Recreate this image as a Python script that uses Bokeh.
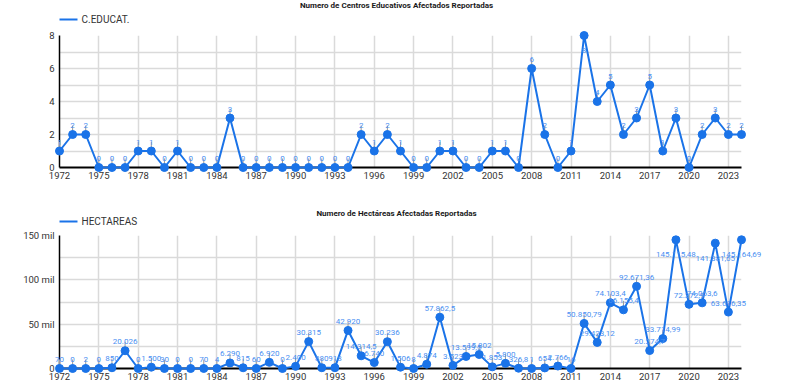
import numpy as np
from bokeh.plotting import figure
from bokeh.layouts import column
from bokeh.models import ColumnDataSource, FixedTicker, Range1d
from bokeh.embed import file_html
from bokeh.resources import INLINE
from bokeh.core.properties import value

# ---------------- data ----------------
years = list(range(1972, 2025))
centros = [1, 2, 2, 0, 0, 0, 1, 1, 0, 1, 0, 0, 0, 3, 0, 0, 0, 0, 0, 0, 0, 0, 0,
           2, 1, 2, 1, 0, 0, 1, 1, 0, 0, 1, 1, 0, 6, 2, 0, 1, 8, 4, 5, 2, 3, 5,
           1, 3, 0, 2, 3, 2, 2]
hectareas = [70, 0, 2, 0, 850, 20026, 0, 1500, 30, 0, 0, 70, 4, 6290, 815, 60,
             6920, 0, 2400, 30315, 880, 918, 42920, 14314.5, 6740, 30236, 1506,
             8, 4874, 57862.5, 3523, 13599.5, 15802, 1853, 5800, 326.8, 1, 654,
             2766, 16, 50850.79, 29423.12, 74103.4, 66155.4, 92671.36, 20274.7,
             33714.99, 145115.48, 72372.9, 74063.6, 141381.65, 63616.35, 145164.69]
x_ticks = list(range(1972, 2025, 3))
centros_ticks = [0, 2, 4, 6, 8]
centros_minor = [1, 3, 5, 7]
hect_ticks = [0, 50000, 100000, 150000]
hect_tick_labels = ["0", "50 mil", "100 mil", "150 mil"]
hect_minor = [25000, 75000, 125000]

title_1 = "Numero de Centros Educativos Afectados Reportadas"
title_2 = "Numero de Hectáreas Afectadas Reportadas"
series_1 = "C.EDUCAT."
series_2 = "HECTAREAS"

LINE = "#1a73e8"
LBL = "#4a8ff2"
GRID = "#dadada"
FONT = "Roboto"
TXT = "#333333"
BORDER_LR = 59
WIDTH = 800
FRAME_W = WIDTH - 2 * BORDER_LR


def fmt_es(v):
    s = f"{v:,.2f}".rstrip("0").rstrip(".")
    return s.replace(",", "X").replace(".", ",").replace("X", ".")


def make(title, name, vals, labels, ymax, yticks, yminor, overrides,
         height, top, bottom, title_gap, legend_gap):
    frame_h = height - top - bottom
    p = figure(width=WIDTH, height=height, output_backend="svg",
               toolbar_location=None, tools="",
               x_range=Range1d(years[0], years[-1]), y_range=Range1d(0, ymax),
               min_border_left=BORDER_LR, min_border_right=BORDER_LR,
               min_border_top=top, min_border_bottom=bottom)
    p.outline_line_color = None
    p.background_fill_color = "white"
    p.border_fill_color = "white"

    # axes
    p.xaxis.ticker = FixedTicker(ticks=x_ticks)
    p.yaxis.ticker = FixedTicker(ticks=yticks, minor_ticks=yminor)
    if overrides:
        p.yaxis.major_label_overrides = overrides
    for ax in (p.xaxis[0], p.yaxis[0]):
        ax.major_tick_out = 0
        ax.major_tick_in = 0
        ax.minor_tick_out = 0
        ax.minor_tick_in = 0
        ax.axis_line_color = "black"
        ax.major_label_text_font = FONT
        ax.major_label_text_font_size = "9.5px"
        ax.major_label_text_color = TXT
    p.xaxis.axis_line_width = 2
    p.yaxis.axis_line_width = 1.5
    p.xaxis.major_label_standoff = 4
    p.yaxis.major_label_standoff = 5

    p.xgrid.grid_line_color = GRID
    p.xgrid.grid_line_width = 1.5
    p.ygrid.grid_line_color = GRID
    p.ygrid.grid_line_width = 1.5
    p.ygrid.minor_grid_line_color = GRID
    p.ygrid.minor_grid_line_width = 1.5

    arr = np.array(vals, dtype=float)
    below = arr >= 0.9 * ymax
    src = ColumnDataSource(dict(
        x=years, y=vals, lbl=labels,
        yoff=np.where(below, 15, -9).tolist(),
        ralpha=np.where(below, 0.0, 1.0).tolist(),
    ))

    p.ray(x="x", y="y", length=9, length_units="screen", angle=np.pi / 2,
          line_color="#9a9a9a", line_alpha="ralpha", line_width=1,
          source=src, level="annotation")
    p.line(x="x", y="y", line_color=LINE, line_width=2, source=src,
           level="annotation")
    p.scatter(x="x", y="y", size=8, fill_color=LINE, line_color=LINE,
              source=src, level="annotation")
    p.text(x="x", y="y", text="lbl", y_offset="yoff", text_align="center",
           text_baseline="alphabetic", text_font=value(FONT),
           text_font_size="8px", text_color=LBL, source=src,
           level="annotation")

    # title and legend drawn above the frame, positions derived from the scales
    px_per_x = FRAME_W / (years[-1] - years[0])
    px_per_y = frame_h / ymax
    ty = ymax + title_gap / px_per_y
    tx = (years[0] + years[-1]) / 2
    p.text(x=[tx], y=[ty], text=[title], x_offset=-4, text_align="center",
           text_baseline="middle", text_font=value(FONT),
           text_font_size="8px", text_font_style="bold",
           text_color="#1a1a1a", level="annotation")

    ly = ymax + legend_gap / px_per_y
    lx0 = years[0]
    lx1 = years[0] + 18 / px_per_x
    p.line(x=[lx0, lx1], y=[ly, ly], line_color=LINE, line_width=2,
           level="annotation")
    p.scatter(x=[(lx0 + lx1) / 2], y=[ly], size=7, fill_color=LINE,
              line_color=LINE, level="annotation")
    p.text(x=[lx1], y=[ly], text=[name], x_offset=4, text_align="left",
           text_baseline="middle", text_font=value(FONT),
           text_font_size="10px", text_color=TXT, level="annotation")
    return p


lab1 = [str(v) for v in centros]
lab2 = [fmt_es(v) for v in hectareas]

p1 = make(title_1, series_1, centros, lab1, 8, centros_ticks, centros_minor,
          None, 190, 35, 23, 30, 16)
p2 = make(title_2, series_2, hectareas, lab2, 150000, hect_ticks, hect_minor,
          dict(zip(hect_ticks, hect_tick_labels)), 196, 45, 18, 22, 14)

layout = column(p1, p2, spacing=0)
open("out.html", "w").write(file_html(layout, INLINE))
